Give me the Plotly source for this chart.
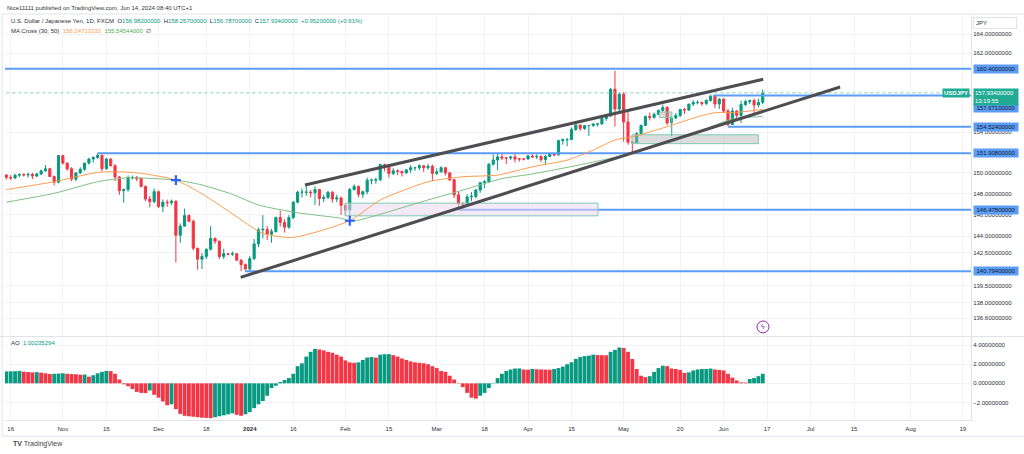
import numpy as np
import pandas as pd
import plotly.graph_objects as go

# ---------------- data ----------------
dates = [d.strftime("%Y-%m-%d") for d in pd.bdate_range("2023-10-13", "2024-06-14")
         if d.strftime("%Y-%m-%d") != "2024-01-01"]

opens = [149.80, 149.57, 149.52, 149.78, 149.85, 149.80, 149.86, 149.70, 149.90, 150.20,
         150.40, 149.65, 149.10, 151.68, 150.95, 150.40, 149.40, 150.00, 150.35, 150.95,
         151.35, 151.50, 151.70, 150.40, 151.35, 150.70, 149.60, 148.30, 148.40, 149.55,
         149.55, 149.45, 148.70, 147.50, 147.25, 148.20, 146.80, 147.20, 147.15, 147.30,
         144.10, 144.95, 145.95, 145.40, 142.90, 141.90, 142.15, 142.80, 143.80, 143.55,
         142.15, 142.40, 142.35, 142.40, 141.80, 141.40, 141.00, 141.95, 143.30, 144.60,
         144.65, 144.20, 144.45, 145.75, 145.30, 144.85, 145.75, 147.20, 148.15, 148.15,
         148.15, 148.10, 148.40, 147.55, 147.65, 148.15, 147.50, 147.60, 146.90, 146.45,
         148.40, 148.70, 147.95, 148.20, 149.30, 149.30, 149.35, 150.80, 150.55, 149.95,
         150.20, 150.15, 150.00, 150.30, 150.50, 150.50, 150.70, 150.50, 150.65, 149.95,
         150.10, 150.50, 150.00, 149.35, 147.90, 147.05, 146.95, 147.70, 147.75, 148.35,
         149.05, 149.15, 150.85, 151.25, 151.55, 151.45, 151.45, 151.55, 151.35, 151.35,
         151.35, 151.65, 151.55, 151.60, 151.30, 151.60, 151.85, 151.75, 153.15, 153.25,
         153.25, 154.25, 154.70, 154.35, 154.65, 154.65, 154.80, 154.80, 155.35, 155.60,
         158.30, 156.30, 157.80, 155.00, 153.00, 152.95, 153.85, 154.65, 155.55, 155.45,
         155.75, 156.15, 156.45, 154.90, 155.40, 155.65, 156.25, 156.20, 156.80, 156.95,
         156.95, 156.85, 157.15, 157.60, 156.80, 157.30, 156.10, 154.75, 156.10, 155.65,
         156.75, 157.05, 157.15, 156.70, 156.98]
highs = [149.85, 149.80, 149.90, 149.95, 149.95, 150.00, 150.00, 150.00, 150.30, 150.77,
         150.50, 149.75, 151.72, 151.75, 151.00, 150.55, 150.10, 150.55, 151.00, 151.45,
         151.60, 151.91, 151.80, 151.45, 151.40, 150.85, 149.70, 148.50, 149.75, 149.75,
         149.70, 149.55, 148.80, 147.80, 148.50, 148.30, 147.45, 147.45, 147.45, 147.35,
         145.20, 146.60, 146.05, 145.55, 142.95, 142.45, 142.90, 144.95, 143.90, 143.60,
         142.85, 142.45, 142.60, 142.45, 141.90, 141.50, 142.20, 143.75, 144.80, 145.98,
         144.95, 144.70, 145.85, 146.40, 145.60, 146.00, 147.30, 148.30, 148.50, 148.80,
         148.35, 148.70, 148.45, 147.90, 148.25, 148.25, 147.90, 147.75, 147.00, 148.55,
         148.90, 148.80, 148.30, 149.55, 149.45, 149.55, 150.90, 150.90, 150.60, 150.45,
         150.35, 150.20, 150.35, 150.75, 150.55, 150.85, 150.75, 150.85, 150.80, 150.45,
         150.65, 150.55, 150.10, 149.40, 148.20, 147.20, 147.95, 148.15, 148.45, 149.15,
         149.30, 150.95, 151.80, 151.85, 151.85, 151.55, 151.65, 151.95, 151.45, 151.45,
         151.75, 151.80, 151.80, 151.70, 151.75, 151.95, 151.95, 153.25, 153.35, 153.40,
         154.45, 154.80, 154.75, 154.70, 154.65, 154.85, 154.85, 155.40, 155.75, 158.45,
         160.20, 157.95, 157.99, 156.00, 153.15, 154.00, 154.75, 155.65, 155.95, 155.95,
         156.25, 156.75, 156.60, 155.60, 155.90, 156.30, 156.40, 156.80, 157.20, 157.20,
         157.05, 157.30, 157.71, 157.65, 157.40, 157.40, 156.30, 156.45, 156.20, 157.15,
         157.25, 157.25, 157.35, 157.35, 158.26]
lows = [149.35, 149.30, 149.40, 149.60, 149.65, 149.55, 149.40, 149.60, 149.80, 150.10,
        149.60, 148.80, 149.00, 150.80, 150.20, 149.20, 149.20, 149.90, 150.20, 150.80,
        151.00, 151.35, 150.15, 150.30, 150.60, 149.20, 147.90, 147.15, 148.20, 149.35,
        149.20, 148.60, 147.30, 146.70, 147.10, 146.65, 146.25, 146.75, 146.95, 141.60,
        143.40, 144.90, 145.30, 142.70, 140.95, 141.00, 141.90, 142.70, 143.30, 141.90,
        141.90, 142.25, 142.20, 141.80, 140.80, 140.90, 140.85, 141.80, 143.00, 143.80,
        143.65, 143.40, 144.35, 144.90, 144.35, 144.70, 145.60, 147.10, 147.65, 147.80,
        147.65, 146.95, 146.85, 147.20, 147.50, 147.15, 147.20, 146.00, 145.90, 145.90,
        148.30, 147.65, 147.60, 147.95, 148.90, 148.95, 149.20, 150.15, 149.55, 149.80,
        149.80, 149.65, 149.90, 150.00, 150.20, 150.25, 150.10, 150.30, 149.20, 149.80,
        150.05, 149.75, 149.20, 147.60, 146.48, 146.50, 146.90, 147.30, 147.55, 148.10,
        148.55, 149.05, 150.70, 150.25, 151.25, 150.85, 151.25, 151.00, 151.10, 151.20,
        151.30, 151.45, 151.35, 151.05, 150.80, 151.55, 151.60, 151.70, 152.75, 152.60,
        153.20, 154.10, 154.10, 154.20, 153.60, 154.50, 154.55, 154.75, 155.10, 155.50,
        154.55, 156.05, 153.05, 152.75, 151.86, 152.90, 153.65, 154.60, 155.15, 155.35,
        155.70, 156.05, 154.70, 153.60, 155.30, 155.50, 155.80, 156.10, 156.60, 156.75,
        156.60, 156.70, 157.05, 156.40, 156.30, 155.95, 154.55, 154.70, 155.40, 154.90,
        156.60, 156.80, 155.70, 156.45, 156.79]
closes = [149.57, 149.52, 149.78, 149.85, 149.80, 149.86, 149.70, 149.90, 150.20, 150.40,
          149.65, 149.10, 151.68, 150.95, 150.40, 149.40, 150.00, 150.35, 150.95, 151.35,
          151.50, 151.70, 150.40, 151.35, 150.70, 149.60, 148.30, 148.40, 149.55, 149.55,
          149.45, 148.70, 147.50, 147.25, 148.20, 146.80, 147.20, 147.15, 147.30, 144.10,
          144.95, 145.95, 145.40, 142.90, 141.90, 142.15, 142.80, 143.80, 143.55, 142.15,
          142.40, 142.35, 142.40, 141.80, 141.40, 141.00, 141.95, 143.30, 144.60, 144.65,
          144.20, 144.45, 145.75, 145.30, 144.85, 145.75, 147.20, 148.15, 148.15, 148.15,
          148.10, 148.40, 147.55, 147.65, 148.15, 147.50, 147.60, 146.90, 146.45, 148.40,
          148.70, 147.95, 148.20, 149.30, 149.30, 149.35, 150.80, 150.55, 149.95, 150.20,
          150.15, 150.00, 150.30, 150.50, 150.50, 150.70, 150.50, 150.65, 149.95, 150.10,
          150.50, 150.00, 149.35, 147.90, 147.05, 146.95, 147.70, 147.75, 148.35, 149.05,
          149.15, 150.85, 151.25, 151.55, 151.45, 151.45, 151.55, 151.35, 151.35, 151.35,
          151.65, 151.55, 151.60, 151.30, 151.60, 151.85, 151.75, 153.15, 153.25, 153.25,
          154.25, 154.70, 154.35, 154.65, 154.65, 154.80, 154.80, 155.35, 155.60, 158.30,
          156.30, 157.80, 155.00, 153.00, 152.95, 153.85, 154.65, 155.55, 155.45, 155.75,
          156.15, 156.45, 154.90, 155.40, 155.65, 156.25, 156.20, 156.80, 156.95, 156.95,
          156.85, 157.15, 157.60, 156.80, 157.30, 156.10, 154.75, 156.10, 155.65, 156.75,
          157.05, 157.15, 156.70, 156.98, 157.93]

ao_values = [1.25, 1.26, 1.27, 1.30, 1.22, 1.18, 1.15, 1.17, 1.12, 1.05,
             0.98, 1.00, 1.02, 1.05, 1.00, 0.97, 0.95, 0.90, 0.92, 0.70,
             0.85, 1.05, 1.20, 1.30, 1.28, 1.00, 0.40, -0.10, -0.30, -0.60,
             -0.90, -1.00, -1.02, -0.75, -1.20, -1.50, -1.90, -2.30, -2.20, -2.70,
             -3.20, -3.40, -3.45, -3.50, -3.55, -3.60, -3.62, -3.65, -3.55, -3.45,
             -3.35, -3.25, -3.15, -3.30, -3.40, -3.25, -3.00, -2.60, -2.20, -1.85,
             -1.30, -0.50, -0.25, 0.15, 0.35, 0.55, 1.00, 1.80, 2.10, 2.80,
             3.30, 3.60, 3.55, 3.45, 3.30, 3.20, 3.00, 2.80, 2.40, 2.20,
             2.15, 2.20, 2.45, 2.70, 2.75, 2.70, 3.00, 3.05, 3.06, 2.95,
             2.80, 2.60, 2.45, 2.30, 2.20, 2.15, 2.10, 2.00, 1.80, 1.60,
             1.30, 1.20, 0.80, 0.40, 0.05, -0.40, -1.00, -1.50, -1.60, -1.30,
             -1.00, -0.50, 0.05, 0.55, 1.00, 1.30, 1.45, 1.55, 1.56, 1.45,
             1.43, 1.50, 1.47, 1.45, 1.44, 1.43, 1.50, 1.60, 1.75, 2.00,
             2.20, 2.55, 2.75, 2.85, 2.90, 3.00, 2.96, 2.95, 2.94, 3.30,
             3.50, 3.75, 3.70, 3.30, 2.55, 1.50, 0.80, 0.65, 0.75, 1.20,
             1.60, 1.85, 1.80, 1.55, 1.50, 1.40, 1.10, 1.15, 1.35, 1.45,
             1.50, 1.51, 1.55, 1.45, 1.40, 1.35, 1.00, 0.60, 0.30, 0.10,
             0.08, 0.45, 0.55, 0.75, 1.00]

ma30_dates = ["2023-10-13", "2023-10-30", "2023-11-13", "2023-11-20", "2023-11-27", "2023-12-07",
              "2023-12-15", "2023-12-26", "2024-01-05", "2024-01-16", "2024-02-02", "2024-02-13",
              "2024-02-28", "2024-03-11", "2024-03-21", "2024-04-02", "2024-04-12", "2024-04-22",
              "2024-04-29", "2024-05-03", "2024-05-15", "2024-05-24", "2024-05-30", "2024-06-05",
              "2024-06-14"]
ma30_values = [148.40, 149.15, 150.05, 150.11, 149.96, 149.31, 148.00, 146.10, 144.27, 143.90,
               145.45, 147.41, 149.15, 149.63, 149.79, 150.59, 151.24, 152.22, 153.21, 153.53,
               154.53, 155.52, 155.93, 155.93, 156.25]
ma50_dates = ["2023-10-13", "2023-10-30", "2023-11-13", "2023-11-22", "2023-12-07", "2023-12-15",
              "2023-12-26", "2024-01-04", "2024-01-17", "2024-01-31", "2024-02-02", "2024-02-06",
              "2024-02-28", "2024-03-11", "2024-03-22", "2024-04-02", "2024-04-16", "2024-04-24",
              "2024-05-03", "2024-05-15", "2024-05-24", "2024-06-05", "2024-06-14"]
ma50_values = [147.20, 148.04, 149.15, 149.53, 149.31, 148.84, 147.95, 146.93, 146.20, 145.68,
               145.45, 145.50, 147.41, 148.35, 149.45, 149.90, 150.70, 151.24, 151.90, 153.00,
               154.00, 155.30, 155.545]

cross_dates = ["2023-12-07", "2024-02-02"]
cross_prices = [149.31, 145.45]

level_prices = [160.40, 157.671, 154.524, 151.908, 146.478, 140.794]
level_starts = ["2023-10-10", "2024-05-29 14:00", "2024-06-04", "2023-11-13", "2024-03-08",
                "2023-12-28 21:36"]
level_labels = ["160.40000000", "157.67100000", "154.52400000", "151.90800000",
                "146.47800000", "140.79400000"]
level_label_shift = [0, -13, 0, 0, 0, 0]

channel_upper_dates = ["2024-01-18 16:48", "2024-06-14 02:24"]
channel_upper_prices = [148.84, 159.33]
channel_lower_dates = ["2023-12-27 21:36", "2024-07-09 19:12"]
channel_lower_prices = [140.25, 158.53]

zone_dates = [["2024-01-31 21:36", "2024-04-23 02:24"],
              ["2024-05-02 21:36", "2024-06-13"],
              ["2024-05-13 04:48", "2024-05-16 02:24"]]
zone_prices = [[145.91, 147.11], [152.85, 153.73], [155.43, 156.00]]
zone_fills = ["rgba(235,215,240,0.55)", "rgba(175,175,175,0.45)", "rgba(175,175,175,0.45)"]

last_price = 157.934
x_end = "2024-08-26"

price_ticks = [164, 162, 154, 150, 148, 146, 144, 142.5, 139.5, 138, 136.6]
ao_ticks = [4, 2, 0, -2]
date_ticks = ["2023-10-16", "2023-11-01", "2023-11-15", "2023-12-01", "2023-12-18", "2024-01-02",
              "2024-01-16", "2024-02-01", "2024-02-15", "2024-03-01", "2024-03-18", "2024-04-01",
              "2024-04-15", "2024-05-01", "2024-05-20", "2024-06-03", "2024-06-17", "2024-07-01",
              "2024-07-15", "2024-08-01", "2024-08-19"]
date_tick_labels = ["16", "Nov", "15", "Dec", "18", "<b>2024</b>", "16", "Feb", "15", "Mar", "18",
                    "Apr", "15", "May", "20", "Jun", "17", "Jul", "15", "Aug", "19"]

# ---------------- style ----------------
UP = "#089981"
DOWN = "#f23645"
BLUE = "#5b9cf6"
GRID = "#f2f3f7"
TXT = "#2a2e39"
FONT = "Liberation Sans"

fig = go.Figure()

# horizontal levels
for p, s in zip(level_prices, level_starts):
    fig.add_trace(go.Scatter(x=[s, x_end], y=[p, p], mode="lines",
                             line=dict(color=BLUE, width=2), xaxis="x", yaxis="y",
                             hoverinfo="skip", showlegend=False))

# zones
for (d0, d1), (p0, p1), fc in zip(zone_dates, zone_prices, zone_fills):
    fig.add_trace(go.Scatter(x=[d0, d1, d1, d0, d0], y=[p0, p0, p1, p1, p0], mode="lines",
                             fill="toself", fillcolor=fc, line=dict(color="#7dcbb3", width=1),
                             xaxis="x", yaxis="y", hoverinfo="skip", showlegend=False))
# vertical connector of small box
fig.add_trace(go.Scatter(x=[zone_dates[2][1], zone_dates[2][1]], y=[zone_prices[2][0], zone_prices[1][1]],
                         mode="lines", line=dict(color="#7dcbb3", width=1), xaxis="x", yaxis="y",
                         hoverinfo="skip", showlegend=False))

# current price dotted line
fig.add_trace(go.Scatter(x=[dates[0], x_end], y=[last_price, last_price], mode="lines",
                         line=dict(color="#7fcdbb", width=1, dash="dot"), xaxis="x", yaxis="y",
                         hoverinfo="skip", showlegend=False))

# moving averages
fig.add_trace(go.Scatter(x=ma50_dates, y=ma50_values, mode="lines",
                         line=dict(color="#7ec07f", width=1, shape="spline", smoothing=0.6),
                         xaxis="x", yaxis="y", hoverinfo="skip", showlegend=False))
fig.add_trace(go.Scatter(x=ma30_dates, y=ma30_values, mode="lines",
                         line=dict(color="#ff9c4f", width=1, shape="spline", smoothing=0.6),
                         xaxis="x", yaxis="y", hoverinfo="skip", showlegend=False))

# candles
fig.add_trace(go.Candlestick(x=dates, open=opens, high=highs, low=lows, close=closes,
                             increasing=dict(line=dict(color=UP, width=1), fillcolor=UP),
                             decreasing=dict(line=dict(color=DOWN, width=1), fillcolor=DOWN),
                             whiskerwidth=0, xaxis="x", yaxis="y", showlegend=False,
                             hoverinfo="skip"))

# channel lines
fig.add_trace(go.Scatter(x=channel_upper_dates, y=channel_upper_prices, mode="lines",
                         line=dict(color="#4d4d52", width=3), xaxis="x", yaxis="y",
                         hoverinfo="skip", showlegend=False))
fig.add_trace(go.Scatter(x=channel_lower_dates, y=channel_lower_prices, mode="lines",
                         line=dict(color="#4d4d52", width=3), xaxis="x", yaxis="y",
                         hoverinfo="skip", showlegend=False))

# MA cross markers
fig.add_trace(go.Scatter(x=cross_dates, y=cross_prices, mode="markers",
                         marker=dict(symbol="cross-thin", size=7, line=dict(width=2.2, color="#2962ff")),
                         xaxis="x", yaxis="y", hoverinfo="skip", showlegend=False))

# AO histogram
ao_colors = [UP if i == 0 or v >= ao_values[i - 1] else DOWN for i, v in enumerate(ao_values)]
fig.add_trace(go.Bar(x=dates, y=ao_values, marker=dict(color=ao_colors, line=dict(width=0)),
                     xaxis="x2", yaxis="y2", hoverinfo="skip", showlegend=False))

# ---------------- layout ----------------
rb = [dict(bounds=["sat", "mon"]), dict(values=["2024-01-01"])]
x_range = ["2023-10-12 16:34", "2024-08-20 21:36"]

fig.update_layout(
    width=1024, height=454,
    margin=dict(l=5, r=53, t=15, b=34),
    paper_bgcolor="white", plot_bgcolor="white",
    font=dict(family=FONT, size=6, color=TXT),
    bargap=0.12,
    showlegend=False,
    hovermode=False,
    xaxis=dict(type="date", range=x_range, rangebreaks=rb, domain=[0, 1], anchor="y",
               showticklabels=False, tickvals=date_ticks, showgrid=True, gridcolor=GRID,
               gridwidth=1, zeroline=False, rangeslider=dict(visible=False), showline=False),
    xaxis2=dict(type="date", range=x_range, rangebreaks=rb, domain=[0, 1], anchor="y2",
                matches="x", tickvals=date_ticks, ticktext=date_tick_labels, showgrid=True,
                gridcolor=GRID, gridwidth=1, zeroline=False, ticks="", showline=True,
                linecolor="#e0e3eb", tickfont=dict(size=6, color=TXT), ticklabelstandoff=3,
                rangeslider=dict(visible=False)),
    yaxis=dict(type="log", domain=[0.2074, 1], anchor="x", side="right",
               range=[np.log10(135.05), np.log10(166.05)],
               tickvals=price_ticks, ticktext=[f"{v:.8f}" for v in price_ticks],
               showgrid=True, gridcolor=GRID, zeroline=False, ticks="", showline=True,
               linecolor="#e0e3eb", tickfont=dict(size=6, color=TXT)),
    yaxis2=dict(domain=[0, 0.2049], anchor="x2", side="right", range=[-3.84, 4.85],
                tickvals=ao_ticks, ticktext=[("\u2212" if v < 0 else "") + f"{abs(v):.8f}" for v in ao_ticks],
                showgrid=True, gridcolor=GRID, zeroline=False, ticks="", showline=True,
                linecolor="#e0e3eb", tickfont=dict(size=6, color=TXT)),
)

shapes = [
    # pane separator
    dict(type="line", xref="paper", yref="paper", x0=-0.005, x1=1.06, y0=0.2062, y1=0.2062,
         line=dict(color="#e0e3eb", width=1)),
    # outer frame
    dict(type="rect", xref="paper", yref="paper", x0=-0.003, x1=1.06, y0=-0.04, y1=1.0025,
         line=dict(color="#e0e3eb", width=1)),
    # lightning icon circle
    dict(type="circle", xref="paper", yref="paper", x0=0.7785, x1=0.7909, y0=0.2151, y1=0.2445,
         line=dict(color="#9c27b0", width=1), fillcolor="white"),
]
fig.update_layout(shapes=shapes)

ann = []
# header
ann.append(dict(xref="paper", yref="paper", x=0.0, y=1.017, xanchor="left", yanchor="middle",
                text="Nice11111 published on TradingView.com, Jun 14, 2024 08:40 UTC+1",
                showarrow=False, font=dict(size=6, color="#333")))
g = UP
row1 = ("U.S. Dollar / Japanese Yen, 1D, FXCM&nbsp;&nbsp;O<span style='color:%s'>156.98200000</span>"
        "&nbsp;&nbsp;H<span style='color:%s'>158.25700000</span>&nbsp;&nbsp;L<span style='color:%s'>156.78700000</span>"
        "&nbsp;&nbsp;C<span style='color:%s'>157.93400000</span>&nbsp;&nbsp;<span style='color:%s'>+0.95200000 (+0.61%%)</span>"
        % (g, g, g, g, g))
ann.append(dict(xref="paper", yref="paper", x=0.004, y=0.985, xanchor="left", yanchor="middle",
                text=row1, showarrow=False, font=dict(size=6, color=TXT)))
row2 = ("MA Cross (30, 50)&nbsp;&nbsp;<span style='color:#ff9c4f'>156.24713333</span>&nbsp;&nbsp;"
        "<span style='color:#4caf50'>155.54544000</span>&nbsp;&nbsp;\u2205")
ann.append(dict(xref="paper", yref="paper", x=0.004, y=0.9605, xanchor="left", yanchor="middle",
                text=row2, showarrow=False, font=dict(size=6, color=TXT)))
ann.append(dict(xref="paper", yref="paper", x=0.004, y=0.190, xanchor="left", yanchor="middle",
                text="AO&nbsp;&nbsp;<span style='color:%s'>1.00235294</span>" % UP,
                showarrow=False, font=dict(size=6, color=TXT)))
# level labels on price scale
for p, lab, sh in zip(level_prices, level_labels, level_label_shift):
    ann.append(dict(xref="paper", yref="y", x=1.002, y=np.log10(p), xanchor="left", yanchor="middle",
                    yshift=sh, text=lab, showarrow=False, bgcolor=BLUE, borderpad=1, width=42,
                    font=dict(size=6, color="#131722")))
# last price label
ann.append(dict(xref="paper", yref="y", x=1.002, y=np.log10(last_price), xanchor="left", yanchor="top",
                yshift=5, text="157.93400000<br>13:19:55", showarrow=False, bgcolor="#22ab94",
                borderpad=1, width=42, align="left", font=dict(size=6, color="white")))
ann.append(dict(xref="paper", yref="y", x=0.999, y=np.log10(last_price), xanchor="right", yanchor="middle",
                text="<b>USDJPY</b>", showarrow=False, bgcolor="#22ab94", borderpad=1,
                font=dict(size=6, color="white")))
# JPY box
ann.append(dict(xref="paper", yref="paper", x=1.0025, y=0.995, xanchor="left", yanchor="top",
                text="JPY", showarrow=False, bordercolor="#e0e3eb", borderwidth=1, borderpad=2,
                width=38, align="left", font=dict(size=6, color=TXT)))
# lightning icon
ann.append(dict(xref="paper", yref="paper", x=0.7847, y=0.2298, xanchor="center", yanchor="middle",
                text="\u03df", showarrow=False, font=dict(size=7, color="#9c27b0")))
# TradingView logo text
ann.append(dict(xref="paper", yref="paper", x=0.006, y=-0.059, xanchor="left", yanchor="middle",
                text="<b>TV</b> TradingView", showarrow=False, font=dict(size=7, color="#444")))
fig.update_layout(annotations=ann)

fig.write_html("out.html", config={"displayModeBar": False, "staticPlot": True},
               post_script="document.body.style.margin='0px';")
